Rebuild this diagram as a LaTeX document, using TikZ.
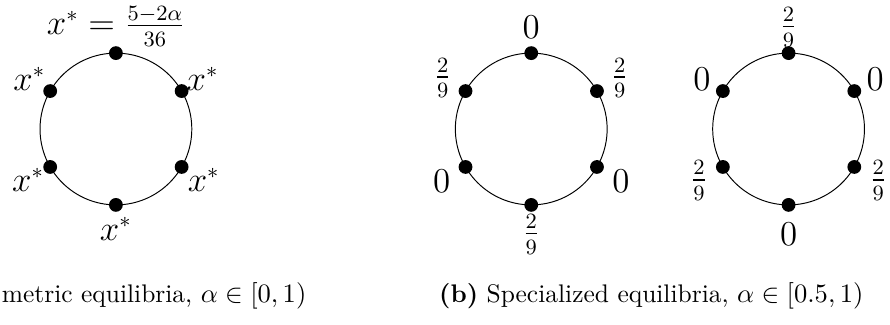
\documentclass[tikz,border=0pt]{standalone}
\usepackage{amssymb}
\begin{document}
\begin{tikzpicture}[
    site/.style={circle, fill=black, inner sep=0pt, minimum size=2mm},
    share/.style={font=\fontsize{13.3}{16}\selectfont, inner sep=1pt},
    subcap/.style={font=\fontsize{10.5}{12.5}\selectfont, inner sep=0pt},
]
\useasboundingbox (0,0) rectangle (12.90,4.71);

% Symmetric ring
\begin{scope}[shift={(1.68,2.84)}]
\draw (0,0) circle (1.10);
\node[site] (a90)  at (90:1.10)  {};
\node[site] (a30)  at (30:1.10)  {};
\node[site] (a330) at (-30:1.10) {};
\node[site] (a270) at (270:1.10) {};
\node[site] (a210) at (210:1.10) {};
\node[site] (a150) at (150:1.10) {};
\node[share] (la90)  at (90:1.49)  {$x^* = \frac{5-2\alpha}{36}$};
\node[share] (la30)  at (30:1.45)  {$x^*$};
\node[share] (la330) at (-30:1.47) {$x^*$};
\node[share] (la270) at (270:1.45) {$x^*$};
\node[share] (la210) at (210:1.47) {$x^*$};
\node[share] (la150) at (150:1.45) {$x^*$};
\end{scope}

% Specialized ring, first
\begin{scope}[shift={(7.70,2.84)}]
\draw (0,0) circle (1.10);
\node[site] (b90)  at (90:1.10)  {};
\node[site] (b30)  at (30:1.10)  {};
\node[site] (b330) at (-30:1.10) {};
\node[site] (b270) at (270:1.10) {};
\node[site] (b210) at (210:1.10) {};
\node[site] (b150) at (150:1.10) {};
\node[share] (lb90)  at (90:1.47)  {$0$};
\node[share] (lb30)  at (30:1.48)  {$\frac{2}{9}$};
\node[share] (lb330) at (-30:1.50) {$0$};
\node[share] (lb270) at (270:1.53) {$\frac{2}{9}$};
\node[share] (lb210) at (210:1.50) {$0$};
\node[share] (lb150) at (150:1.48) {$\frac{2}{9}$};
\end{scope}

% Specialized ring, second
\begin{scope}[shift={(11.43,2.84)}]
\draw (0,0) circle (1.10);
\node[site] (c90)  at (90:1.10)  {};
\node[site] (c30)  at (30:1.10)  {};
\node[site] (c330) at (-30:1.10) {};
\node[site] (c270) at (270:1.10) {};
\node[site] (c210) at (210:1.10) {};
\node[site] (c150) at (150:1.10) {};
\node[share] (lc90)  at (90:1.47)  {$\frac{2}{9}$};
\node[share] (lc30)  at (30:1.45)  {$0$};
\node[share] (lc330) at (-30:1.50) {$\frac{2}{9}$};
\node[share] (lc270) at (270:1.52) {$0$};
\node[share] (lc210) at (210:1.50) {$\frac{2}{9}$};
\node[share] (lc150) at (150:1.45) {$0$};
\end{scope}

% Sub-captions
\node[subcap, anchor=base west] (capA) at (0.02,0.33)
    {metric equilibria, $\alpha \in [0, 1)$};
\node[subcap, anchor=base] (capB) at (9.44,0.33)
    {\textbf{(b)} Specialized equilibria, $\alpha \in [0.5, 1)$};

\end{tikzpicture}
\end{document}
